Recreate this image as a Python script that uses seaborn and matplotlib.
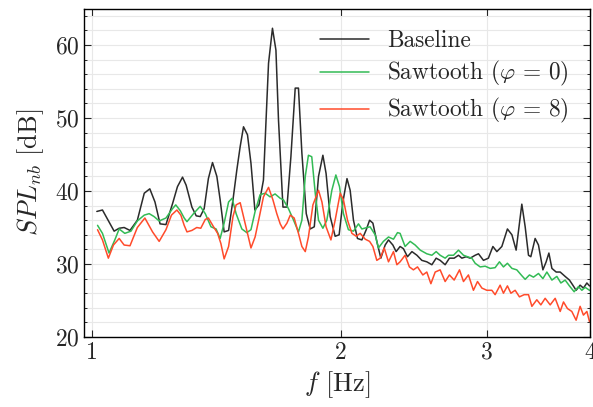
import numpy as np
import pandas as pd
import matplotlib
matplotlib.use("Agg")
import matplotlib.pyplot as plt
import seaborn as sns
from matplotlib.ticker import MultipleLocator, NullLocator, FixedLocator, FixedFormatter

# narrowband SPL spectra
base_f = [1.013, 1.029, 1.063, 1.078, 1.093, 1.111, 1.134, 1.156, 1.174, 1.191,
          1.208, 1.228, 1.251, 1.268, 1.286, 1.299, 1.320, 1.336, 1.351, 1.366,
          1.382, 1.398, 1.415, 1.428, 1.444, 1.462, 1.480, 1.496, 1.510, 1.524,
          1.541, 1.556, 1.573, 1.591, 1.611, 1.634, 1.652, 1.668, 1.680, 1.701,
          1.720, 1.739, 1.760, 1.776, 1.793, 1.815, 1.835, 1.856, 1.878, 1.901,
          1.918, 1.940, 1.967, 1.989, 2.010, 2.033, 2.051, 2.070, 2.093, 2.119,
          2.145, 2.165, 2.185, 2.209, 2.234, 2.261, 2.282, 2.310, 2.331, 2.357,
          2.379, 2.406, 2.436, 2.470, 2.504, 2.539, 2.575, 2.606, 2.635, 2.672,
          2.704, 2.740, 2.773, 2.799, 2.833, 2.865, 2.905, 2.932, 2.973, 3.014,
          3.052, 3.086, 3.129, 3.178, 3.218, 3.256, 3.308, 3.339, 3.370, 3.392,
          3.433, 3.465, 3.508, 3.540, 3.567, 3.597, 3.640, 3.681, 3.732, 3.777,
          3.813, 3.848, 3.891, 3.927, 3.965, 3.994]
base_spl = [37.2, 37.4, 34.5, 34.9, 35.0, 34.6, 36.0, 39.7, 40.3, 38.5,
            35.5, 35.4, 38.3, 40.6, 41.9, 40.8, 37.8, 36.6, 36.5, 37.6,
            41.7, 43.9, 42.0, 38.8, 34.4, 34.6, 38.8, 42.9, 46.1, 48.8,
            47.7, 43.8, 37.4, 38.1, 41.5, 57.5, 62.3, 59.3, 49.7, 37.8,
            37.8, 44.7, 54.1, 54.1, 45.2, 36.9, 34.8, 35.1, 42.0, 44.9,
            42.4, 36.5, 33.8, 34.0, 38.5, 41.7, 40.1, 36.0, 33.5, 33.3,
            34.7, 36.0, 35.6, 33.1, 30.8, 32.6, 33.3, 32.6, 31.7, 32.4,
            32.1, 31.0, 31.7, 31.2, 30.5, 30.3, 29.9, 30.8, 30.5, 29.9,
            30.8, 30.8, 31.2, 30.8, 31.0, 30.8, 31.2, 31.4, 30.5, 30.8,
            32.4, 31.7, 32.4, 34.8, 34.0, 31.9, 38.2, 35.1, 31.2, 31.0,
            33.5, 32.6, 29.2, 30.3, 31.5, 29.4, 28.9, 28.9, 28.3, 27.8,
            27.1, 26.4, 27.1, 26.7, 27.4, 27.0]

saw0_f = [1.015, 1.029, 1.048, 1.065, 1.078, 1.095, 1.114, 1.134, 1.156, 1.172,
          1.188, 1.205, 1.228, 1.251, 1.262, 1.278, 1.292, 1.302, 1.326, 1.351,
          1.370, 1.392, 1.412, 1.428, 1.444, 1.462, 1.476, 1.493, 1.517, 1.538,
          1.556, 1.574, 1.596, 1.619, 1.641, 1.664, 1.688, 1.703, 1.727, 1.752,
          1.776, 1.793, 1.810, 1.826, 1.843, 1.861, 1.878, 1.901, 1.922, 1.949,
          1.971, 1.991, 2.013, 2.041, 2.070, 2.099, 2.119, 2.149, 2.168, 2.199,
          2.219, 2.250, 2.282, 2.314, 2.340, 2.357, 2.390, 2.424, 2.458, 2.493,
          2.539, 2.575, 2.606, 2.635, 2.672, 2.697, 2.735, 2.773, 2.812, 2.843,
          2.878, 2.905, 2.946, 2.987, 3.029, 3.071, 3.108, 3.143, 3.178, 3.218,
          3.262, 3.308, 3.339, 3.379, 3.417, 3.465, 3.508, 3.547, 3.597, 3.647,
          3.688, 3.732, 3.777, 3.827, 3.873, 3.910, 3.946, 3.994]
saw0_spl = [35.3, 34.2, 31.5, 33.3, 34.8, 34.2, 34.5, 35.9, 36.7, 36.9,
            36.5, 35.9, 36.3, 37.6, 38.1, 37.3, 36.3, 35.8, 36.9, 37.9,
            36.9, 35.1, 34.8, 33.5, 35.6, 38.5, 39.0, 36.9, 34.8, 34.3,
            34.7, 37.2, 39.5, 39.7, 39.2, 39.6, 39.0, 38.8, 37.6, 36.0,
            34.4, 36.0, 42.0, 44.9, 44.7, 39.7, 36.0, 34.9, 36.0, 40.1,
            42.2, 40.6, 36.9, 34.7, 34.5, 35.5, 34.8, 35.0, 35.1, 34.0,
            32.2, 33.1, 33.7, 33.4, 34.3, 34.2, 32.4, 33.1, 32.6, 31.9,
            31.4, 31.2, 31.7, 31.2, 30.8, 31.2, 31.2, 31.9, 31.2, 31.0,
            30.8, 30.1, 29.6, 29.7, 29.4, 29.5, 30.3, 29.6, 30.1, 29.4,
            29.2, 28.4, 27.9, 28.5, 28.2, 28.7, 28.0, 28.9, 27.8, 28.3,
            27.4, 27.8, 27.0, 26.2, 26.9, 26.4, 26.8, 26.4]

saw8_f = [1.015, 1.029, 1.046, 1.061, 1.078, 1.093, 1.111, 1.134, 1.158, 1.183,
          1.205, 1.228, 1.247, 1.266, 1.280, 1.292, 1.302, 1.320, 1.338, 1.353,
          1.370, 1.382, 1.402, 1.418, 1.431, 1.444, 1.462, 1.480, 1.493, 1.510,
          1.524, 1.541, 1.556, 1.574, 1.593, 1.611, 1.634, 1.654, 1.672, 1.688,
          1.701, 1.720, 1.736, 1.755, 1.776, 1.793, 1.810, 1.826, 1.849, 1.878,
          1.896, 1.918, 1.944, 1.967, 1.995, 2.013, 2.036, 2.061, 2.086, 2.109,
          2.139, 2.165, 2.185, 2.209, 2.230, 2.255, 2.282, 2.314, 2.336, 2.357,
          2.390, 2.419, 2.446, 2.474, 2.511, 2.539, 2.568, 2.599, 2.635, 2.672,
          2.704, 2.740, 2.781, 2.812, 2.851, 2.891, 2.924, 2.960, 3.001, 3.043,
          3.071, 3.114, 3.143, 3.178, 3.209, 3.247, 3.286, 3.330, 3.370, 3.402,
          3.449, 3.488, 3.530, 3.580, 3.630, 3.681, 3.715, 3.756, 3.802, 3.848,
          3.891, 3.927, 3.965, 3.994]
saw8_spl = [34.7, 33.3, 30.8, 32.6, 33.5, 32.6, 32.5, 35.0, 36.3, 34.4,
            33.1, 34.7, 36.7, 37.4, 36.7, 35.3, 34.4, 34.6, 35.0, 34.9,
            36.1, 36.3, 35.1, 34.2, 32.8, 30.7, 32.4, 36.5, 38.1, 38.4,
            36.5, 34.2, 32.2, 33.7, 36.5, 39.2, 40.5, 38.8, 36.9, 35.5,
            34.8, 35.6, 36.7, 36.3, 34.2, 32.4, 31.7, 33.7, 38.1, 40.1,
            38.5, 35.1, 33.3, 36.0, 39.7, 38.8, 36.0, 34.2, 33.8, 34.2,
            33.4, 33.1, 32.4, 30.5, 30.8, 32.2, 30.3, 31.7, 29.9, 30.3,
            31.2, 29.6, 29.2, 29.6, 28.5, 28.9, 27.3, 28.9, 29.2, 27.6,
            28.5, 27.8, 29.2, 27.6, 28.5, 26.4, 27.6, 26.7, 26.4, 26.4,
            25.8, 27.1, 26.0, 27.0, 26.0, 26.4, 25.5, 25.8, 25.8, 24.2,
            25.1, 24.4, 25.3, 24.4, 25.3, 23.5, 24.8, 23.9, 23.5, 22.3,
            24.2, 23.0, 23.5, 22.1]

labels = ["Baseline", r"Sawtooth ($\varphi \,=\, 0$)", r"Sawtooth ($\varphi \,=\, 8$)"]
colors = ["#2b2b2b", "#33bb55", "#ff4b2b"]

sns.set_style("ticks")
plt.rcParams["font.family"] = "serif"
plt.rcParams["font.serif"] = ["cmr10", "DejaVu Serif"]
plt.rcParams["mathtext.fontset"] = "cm"
plt.rcParams["axes.unicode_minus"] = False
plt.rcParams["axes.formatter.use_mathtext"] = True

fig, ax = plt.subplots(figsize=(5.93, 4.07), dpi=100)
fig.subplots_adjust(left=0.142, right=0.995, bottom=0.172, top=0.979)

series = [(base_f, base_spl), (saw0_f, saw0_spl), (saw8_f, saw8_spl)]
for (f, spl), lab, col in zip(series, labels, colors):
    df = pd.DataFrame({"f": f, "spl": spl})
    sns.lineplot(data=df, x="f", y="spl", ax=ax, color=col, lw=1.1,
                 label=lab, estimator=None, sort=False)

ax.set_xscale("log")
ax.set_xlim(0.978, 4.0)
ax.set_ylim(20, 65)
ax.xaxis.set_major_locator(FixedLocator([1, 2, 3, 4]))
ax.xaxis.set_major_formatter(FixedFormatter(["1", "2", "3", "4"]))
ax.xaxis.set_minor_locator(NullLocator())
ax.yaxis.set_major_locator(MultipleLocator(10))
ax.yaxis.set_minor_locator(MultipleLocator(2))

ax.grid(which="both", color="#e8e8e8", lw=0.8)
ax.set_axisbelow(True)
ax.tick_params(which="both", direction="in", top=True, right=True,
               labelsize=17)
ax.tick_params(which="major", length=5, width=0.8)
ax.tick_params(which="minor", length=2.5, width=0.7)
for sp in ax.spines.values():
    sp.set_color("black")
    sp.set_linewidth(1.0)

ax.set_xlabel(r"$f$ [Hz]", fontsize=19, labelpad=4)
ax.set_ylabel(r"$SPL_{nb}$ [dB]", fontsize=19, labelpad=6)

ax.legend(loc="upper right", frameon=False, fontsize=16.8, handlelength=2.1,
          handletextpad=0.8, labelspacing=0.33, borderaxespad=0.5)

plt.savefig("out.png", dpi=100)
